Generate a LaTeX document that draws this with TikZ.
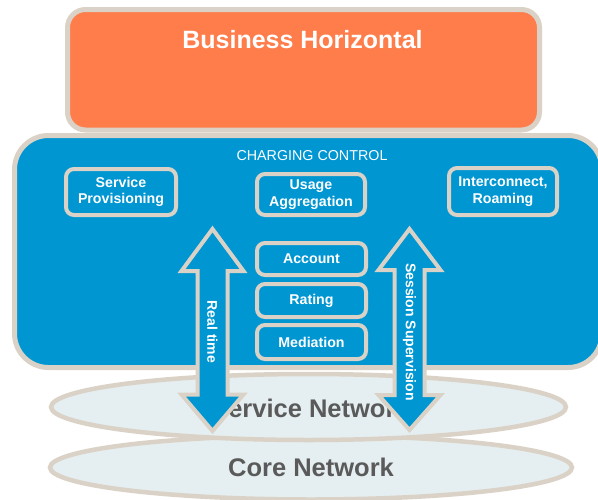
\documentclass[tikz,border=0pt]{standalone}
\usepackage{fontspec}
\setmainfont{Liberation Sans}
\usetikzlibrary{shapes.geometric}
\definecolor{bizorange}{RGB}{255,125,75}
\definecolor{ccblue}{RGB}{0,150,210}
\definecolor{rim}{RGB}{218,210,198}
\definecolor{netfill}{RGB}{229,238,240}
\definecolor{nettext}{RGB}{90,90,90}
\begin{document}
\begin{tikzpicture}[x=1pt,y=-1pt,
  netell/.style={ellipse, draw=rim, fill=netfill, line width=4.5pt, inner sep=0pt,
    text=nettext, font=\fontsize{25.5}{28}\selectfont\bfseries},
  funcbox/.style={rectangle, rounded corners=8pt, draw=rim, line width=4pt, fill=ccblue,
    text=white, align=center, inner sep=0pt,
    font=\fontsize{14.2}{16.5}\selectfont\bfseries},
  blockarrow/.style={draw=rim, fill=ccblue, line width=4pt, line join=miter},
  arrowtext/.style={text=white, rotate=-90, inner sep=0pt,
    font=\fontsize{14}{16}\selectfont\bfseries}]
\useasboundingbox (0,0) rectangle (598,499);
% networks
\node (core) [netell, minimum width=522pt, minimum height=64pt] at (311,467.5) {Core Network};
\node (service) [netell, minimum width=515pt, minimum height=66pt] at (308.5,407) {};
\node (servicetxt) [text=nettext, inner sep=0pt, font=\fontsize{25.5}{28}\selectfont\bfseries] at (310.5,408.5) {Service Network};
% charging control panel
\draw[draw=rim, fill=ccblue, line width=5pt, rounded corners=34pt]
  (14.5,135.5) rectangle (602,367.5);
\node (cctitle) [text=white, inner sep=0pt, font=\fontsize{14.3}{16}\selectfont] at (312,156) {CHARGING CONTROL};
% business horizontal
\node (biz) [rectangle, rounded corners=18pt, draw=rim, fill=bizorange, line width=5pt,
  minimum width=472pt, minimum height=120.5pt] at (303.5,69.75) {};
\node (biztxt) [text=white, inner sep=0pt, font=\fontsize{25}{28}\selectfont\bfseries] at (302.5,40) {Business Horizontal};
% functions
\node (prov) [funcbox, minimum width=110pt, minimum height=46pt] at (121,192) {Service\\Provisioning};
\node (usage) [funcbox, minimum width=108pt, minimum height=41pt] at (311,194.5) {Usage\\Aggregation};
\node (inter) [funcbox, minimum width=108pt, minimum height=47pt] at (503,191.5) {Interconnect,\\Roaming};
\node (account) [funcbox, minimum width=109pt, minimum height=32pt] at (311.5,259) {Account};
\node (rating) [funcbox, minimum width=109pt, minimum height=33pt] at (311.5,300.5) {Rating};
\node (mediation) [funcbox, minimum width=109pt, minimum height=34pt] at (311.5,342) {Mediation};
% block arrows
\draw[blockarrow] (212.5,229) -- (243.5,271) -- (227.5,271) -- (227.5,394.5) -- (243.5,394.5)
  -- (212.5,431) -- (181.5,394.5) -- (197.5,394.5) -- (197.5,271) -- (181.5,271) -- cycle;
\node (realtime) [arrowtext] at (212.5,332) {Real time};
\draw[blockarrow] (409.5,229) -- (440.5,270) -- (424.5,270) -- (424.5,395) -- (440.5,395)
  -- (409.5,430) -- (378.5,395) -- (394.5,395) -- (394.5,270) -- (378.5,270) -- cycle;
\node (session) [arrowtext] at (409.5,332) {Session Supervision};
\end{tikzpicture}
\end{document}
